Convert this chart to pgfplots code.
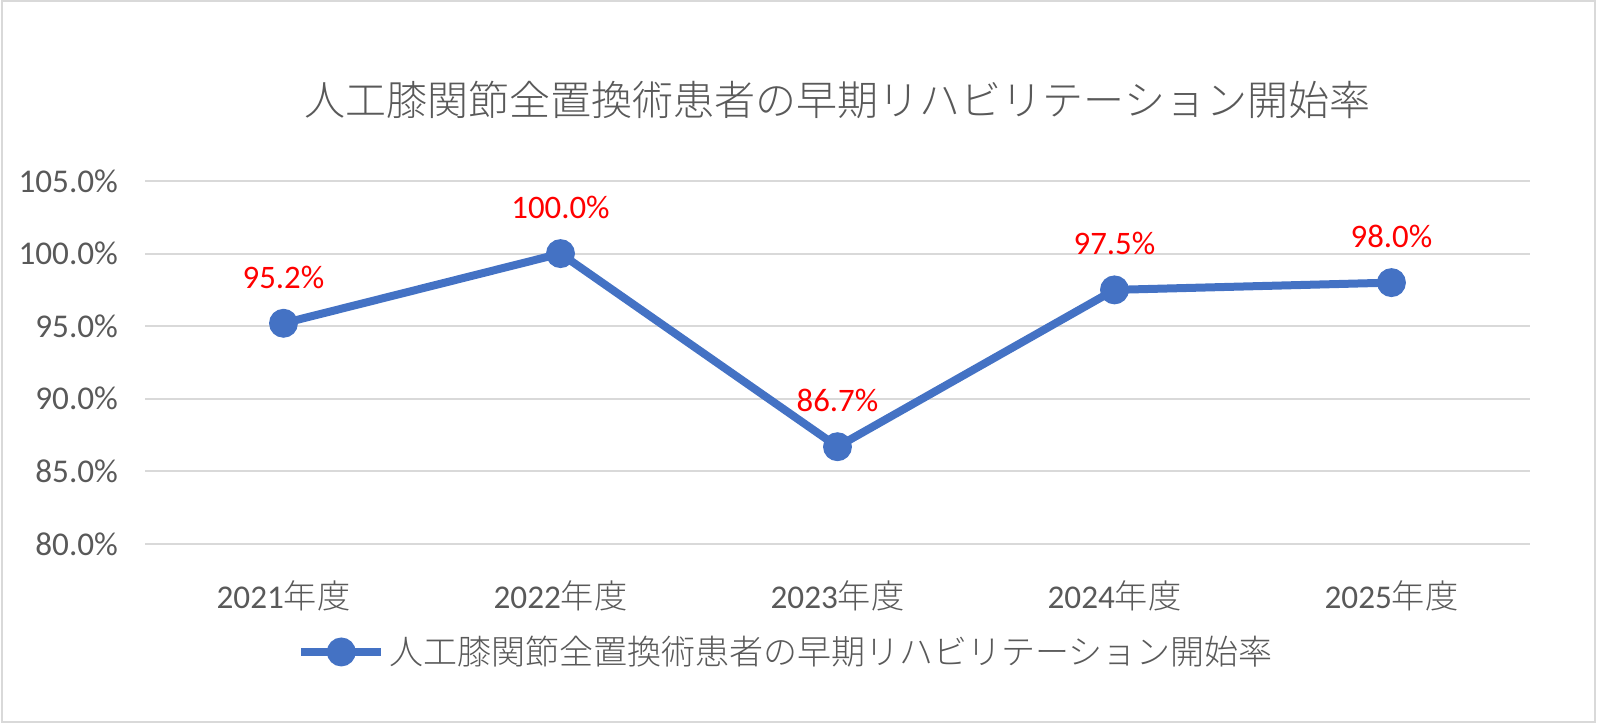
\documentclass[border=0pt]{standalone}
\usepackage{pgfplots}
\pgfplotsset{compat=1.18}
\usepackage{fontspec}
\setmainfont{Carlito}
\newfontfamily\cjk{Noto Sans CJK JP Light}
\definecolor{txt}{HTML}{595959}
\definecolor{ser}{HTML}{4472C4}
\definecolor{grd}{HTML}{D9D9D9}
\begin{document}
\begin{tikzpicture}
\begin{axis}[
  scale only axis,
  width=692.5bp, height=181.5bp,
  xmin=-0.5, xmax=4.5,
  ymin=80, ymax=105,
  axis line style={draw=none},
  major tick length=0pt,
  xtick={0,1,2,3,4},
  xticklabels={2021{\cjk 年度},2022{\cjk 年度},2023{\cjk 年度},2024{\cjk 年度},2025{\cjk 年度}},
  ytick={80,85,90,95,100,105},
  yticklabels={80.0\%,85.0\%,90.0\%,95.0\%,100.0\%,105.0\%},
  ymajorgrids,
  grid style={draw=grd, line width=1bp},
  tick label style={font=\fontsize{16.6bp}{19bp}\selectfont, text=txt},
  xticklabel style={yshift=-15bp},
  yticklabel style={xshift=-10bp},
  /pgf/number format/assume math mode=true,
  clip=false,
  legend style={at={(0.4635,-0.2975)}, anchor=center, draw=none, fill=none,
    font=\fontsize{17bp}{20bp}\selectfont\cjk, text=txt,
    legend cell align=left},
  legend image code/.code={
    \draw[ser, line width=4bp] (0bp,0bp) -- (40bp,0bp);
    \fill[ser] (20bp,0bp) circle (5.2bp);
  },
  nodes near coords={\pgfmathprintnumber[fixed,fixed zerofill,precision=1]{\pgfplotspointmeta}\%},
  every node near coord/.style={anchor=center, yshift=23bp, text=red,
    font=\fontsize{16.4bp}{19bp}\selectfont},
]
\addplot[ser, line width=4bp, mark=*, mark size=5.2bp, mark options={fill=ser, draw=ser}]
  coordinates {(0,95.2) (1,100.0) (2,86.7) (3,97.5) (4,98.0)};
\addlegendentry{人工膝関節全置換術患者の早期リハビリテーション開始率}
\node[text=txt, font=\fontsize{20.5bp}{24bp}\selectfont\cjk] at (rel axis cs:0.5,1.223) {人工膝関節全置換術患者の早期リハビリテーション開始率};
\draw[grd, line width=1bp] (rel axis cs:-0.1029,-0.4895) rectangle (rel axis cs:1.0466,1.4958);
\coordinate (BL) at (rel axis cs:-0.1047,-0.4931);
\coordinate (TR) at (rel axis cs:1.0484,1.4986);
\end{axis}
\pgfresetboundingbox
\path[use as bounding box] (BL) rectangle (TR);
\end{tikzpicture}
\end{document}
